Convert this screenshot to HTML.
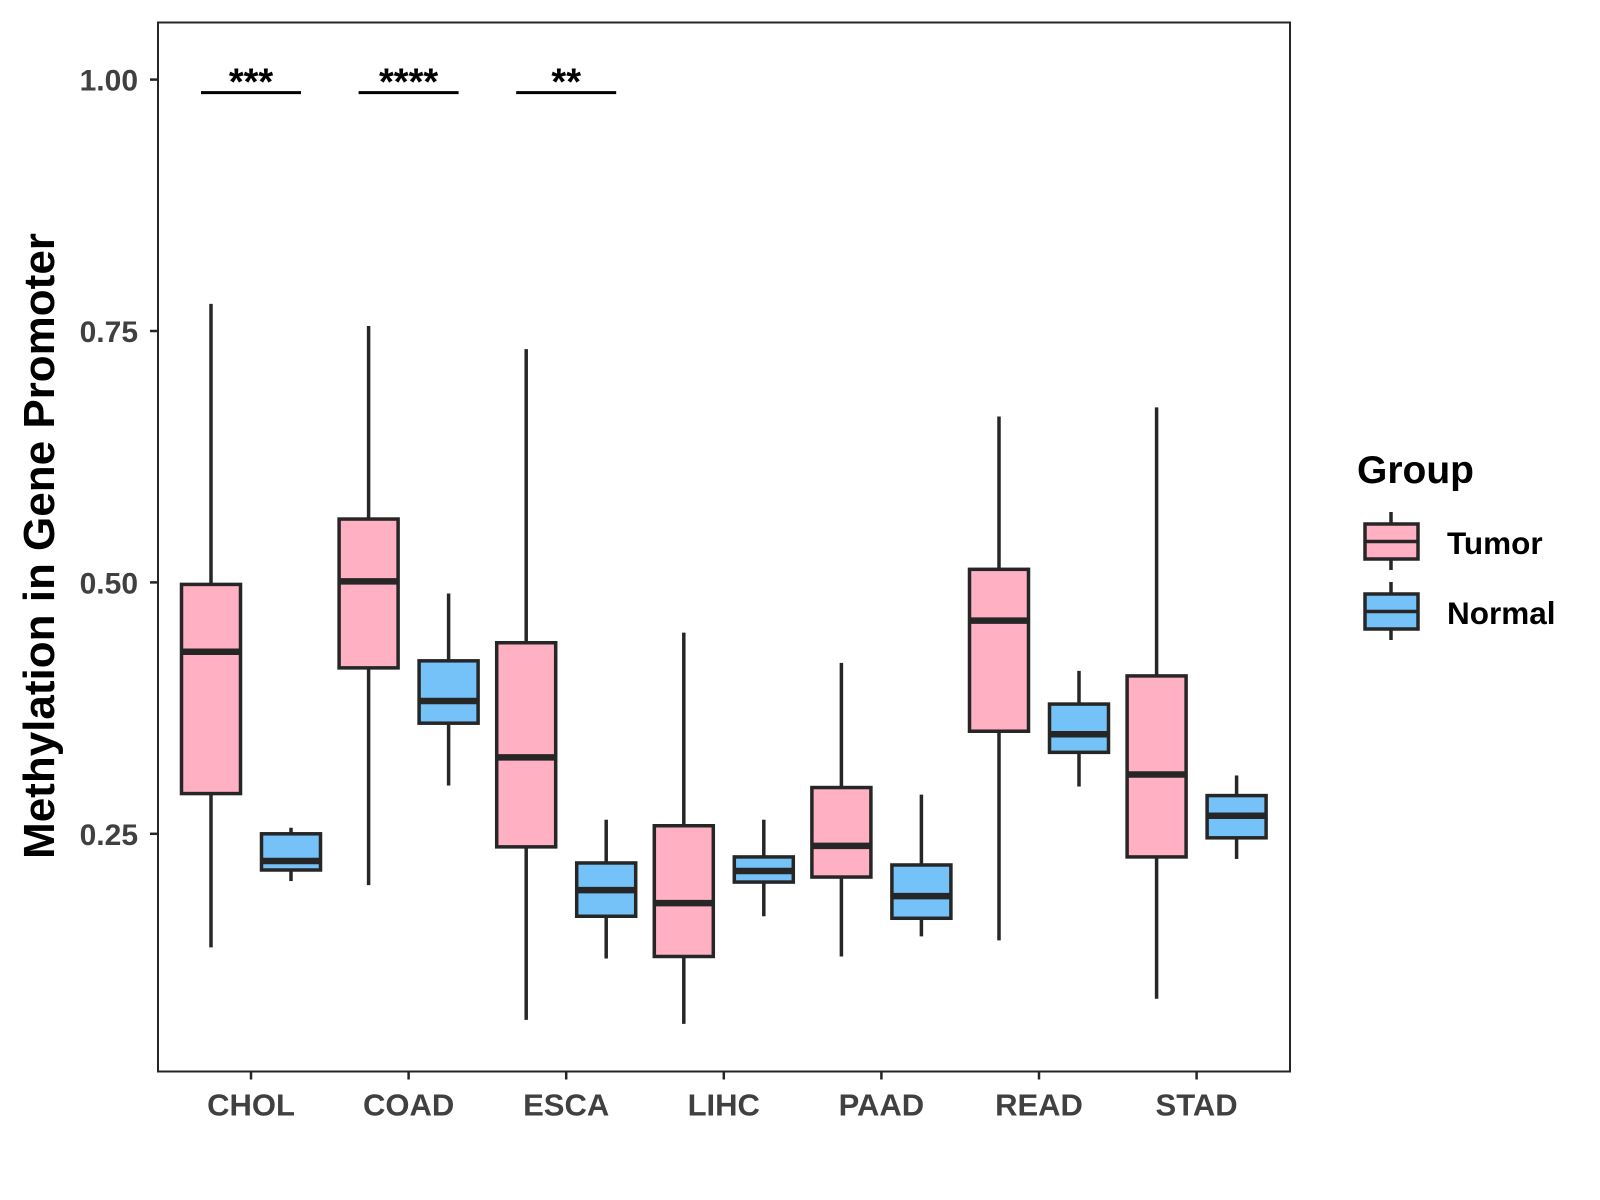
<!DOCTYPE html>
<html><head><meta charset="utf-8"><style>
html,body{margin:0;padding:0;background:#fff;}
svg{display:block;font-family:"Liberation Sans",Arial,sans-serif;font-weight:bold;}
</style></head><body>
<svg id="chart" width="1600" height="1200" viewBox="0 0 1600 1200" xmlns="http://www.w3.org/2000/svg">
<rect x="0" y="0" width="1600" height="1200" fill="#fff"/>
<g id="plot"></g>
<text x="39" y="546" transform="rotate(-90 39 546)" text-anchor="middle" font-size="44" fill="#000" dy="15">Methylation in Gene Promoter</text>
<g>
<text x="1357" y="483" font-size="39" fill="#000">Group</text>
<g>
<line x1="1391" y1="512" x2="1391" y2="570" stroke="#262626" stroke-width="3.5"/>
<rect x="1365" y="524" width="53" height="35" fill="#FFB0C3" stroke="#262626" stroke-width="3.5"/>
<line x1="1365" y1="541.5" x2="1418" y2="541.5" stroke="#262626" stroke-width="3.5"/>
<text x="1447" y="554" font-size="31.5" fill="#000">Tumor</text>
</g>
<g>
<line x1="1391" y1="582" x2="1391" y2="640" stroke="#262626" stroke-width="3.5"/>
<rect x="1365" y="594" width="53" height="35" fill="#75C2F8" stroke="#262626" stroke-width="3.5"/>
<line x1="1365" y1="611.5" x2="1418" y2="611.5" stroke="#262626" stroke-width="3.5"/>
<text x="1447" y="624" font-size="31.5" fill="#000">Normal</text>
</g>
</g>
</svg>
<script>
const categories = ["CHOL","COAD","ESCA","LIHC","PAAD","READ","STAD"];
// [low, q1, median, q3, high]
const tumorStats = [
 [0.137,0.290,0.431,0.498,0.777],
 [0.199,0.415,0.501,0.563,0.755],
 [0.065,0.237,0.326,0.440,0.732],
 [0.061,0.128,0.181,0.258,0.450],
 [0.128,0.207,0.238,0.296,0.420],
 [0.144,0.352,0.462,0.513,0.665],
 [0.086,0.227,0.309,0.407,0.674]
];
const normalStats = [
 [0.203,0.214,0.223,0.250,0.256],
 [0.298,0.360,0.382,0.422,0.489],
 [0.126,0.168,0.194,0.221,0.264],
 [0.168,0.202,0.213,0.227,0.264],
 [0.148,0.166,0.188,0.219,0.289],
 [0.297,0.331,0.349,0.379,0.412],
 [0.225,0.246,0.268,0.288,0.308]
];
const yTicks = [0.25,0.50,0.75,1.00];
const yTickLabels = ["0.25","0.50","0.75","1.00"];
const sigCategories = ["CHOL","COAD","ESCA"];
const sigLabels = ["***","****","**"];
const sigLevel = 0.987;

const NS="http://www.w3.org/2000/svg";
const L=158,R=1290,T=22.5,B=1071.5;
function yScale(v){return 79.6+(1-v)*1005.6;}
function xScale(i){return 251+i*157.6;}
const plot=document.getElementById('plot');
function mk(tag,attrs,parent){const e=document.createElementNS(NS,tag);for(const k in attrs)e.setAttribute(k,attrs[k]);(parent||plot).appendChild(e);return e;}
const C="#262626";
yTicks.forEach((v,i)=>{
 const y=yScale(v);
 const t=mk('line',{x1:L-8,y1:y,x2:L,y2:y,stroke:C,'stroke-width':2.5});
 
 
 const tx=mk('text',{x:L-20,y:y+11,'text-anchor':'end','font-size':30,fill:'#404040'});
 tx.textContent=yTickLabels[i];
 
 
});
categories.forEach((c,i)=>{
 const x=xScale(i);
 const t=mk('line',{x1:x,y1:B,x2:x,y2:B+8,stroke:C,'stroke-width':2.5});
 
 
 const tx=mk('text',{x:x,y:B+44,'text-anchor':'middle','font-size':31,fill:'#404040'});
 tx.textContent=c;
 
 
});
function box(cx,s,fill,name){
 const g=mk('g',{});
 
 
 const w=59;
 mk('line',{x1:cx,y1:yScale(s[4]),x2:cx,y2:yScale(s[3]),stroke:C,'stroke-width':3.5},g);
 mk('line',{x1:cx,y1:yScale(s[1]),x2:cx,y2:yScale(s[0]),stroke:C,'stroke-width':3.5},g);
 mk('rect',{x:cx-w/2,y:yScale(s[3]),width:w,height:yScale(s[1])-yScale(s[3]),fill:fill,stroke:C,'stroke-width':3.5},g);
 mk('line',{x1:cx-w/2,y1:yScale(s[2]),x2:cx+w/2,y2:yScale(s[2]),stroke:C,'stroke-width':6.5},g);
}
categories.forEach((c,i)=>{
 box(xScale(i)-40,tumorStats[i],"#FFB0C3","box-tumor-"+c.toLowerCase());
 box(xScale(i)+40,normalStats[i],"#75C2F8","box-normal-"+c.toLowerCase());
});
sigCategories.forEach((c,k)=>{
 const i=categories.indexOf(c);const x=xScale(i);const y=yScale(sigLevel);
 const l=mk('line',{x1:x-50,y1:y,x2:x+50,y2:y,stroke:'#000','stroke-width':3});
 
 
 const tx=mk('text',{x:x,y:y+2,'text-anchor':'middle','font-size':38,fill:'#000'});
 tx.textContent=sigLabels[k];
 
 
});
const fr=mk('rect',{x:L,y:T,width:R-L,height:B-T,fill:'none',stroke:C,'stroke-width':2});


</script>
</body></html>
